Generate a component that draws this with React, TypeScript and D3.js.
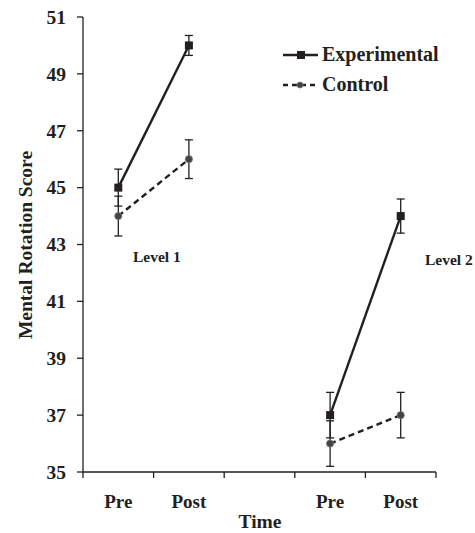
import { useMemo } from 'react';
import { scaleBand, scaleLinear, line } from 'd3';

const slots = ['L1 Pre', 'L1 Post', 'gap', 'L2 Pre', 'L2 Post'];
const slotLabels = ['Pre', 'Post', '', 'Pre', 'Post'];
const yTicks = [35, 37, 39, 41, 43, 45, 47, 49, 51];

const experimental = [
  { level: 1, slot: 'L1 Pre', value: 45, err: 0.65 },
  { level: 1, slot: 'L1 Post', value: 50, err: 0.35 },
  { level: 2, slot: 'L2 Pre', value: 37, err: 0.8 },
  { level: 2, slot: 'L2 Post', value: 44, err: 0.6 },
];

const control = [
  { level: 1, slot: 'L1 Pre', value: 44, err: 0.7 },
  { level: 1, slot: 'L1 Post', value: 46, err: 0.68 },
  { level: 2, slot: 'L2 Pre', value: 36, err: 0.8 },
  { level: 2, slot: 'L2 Post', value: 37, err: 0.8 },
];

type Pt = { level: number; slot: string; value: number; err: number };

const font = '"Liberation Serif", "Times New Roman", serif';
const ink = '#231f20';

export default function App() {
  const x = useMemo(() => scaleBand().domain(slots).range([83, 436]).padding(0), []);
  const y = useMemo(() => scaleLinear().domain([35, 51]).range([472, 17]), []);
  const cx = (s: string) => (x(s) ?? 0) + x.bandwidth() / 2;
  const path = line<Pt>()
    .x((d) => cx(d.slot))
    .y((d) => y(d.value));

  const bounds = slots.map((s) => x(s) ?? 0).concat([436]);

  const errBars = (data: Pt[]) =>
    data.map((d, i) => (
      <g key={i} stroke={ink} strokeWidth={1.3}>
        <line x1={cx(d.slot)} x2={cx(d.slot)} y1={y(d.value - d.err)} y2={y(d.value + d.err)} />
        <line x1={cx(d.slot) - 4} x2={cx(d.slot) + 4} y1={y(d.value - d.err)} y2={y(d.value - d.err)} />
        <line x1={cx(d.slot) - 4} x2={cx(d.slot) + 4} y1={y(d.value + d.err)} y2={y(d.value + d.err)} />
      </g>
    ));

  return (
    <svg
      width={475}
      height={533}
      style={{ position: 'absolute', left: 0, top: 0, background: '#fff' }}
      fontFamily={font}
      fontWeight="bold"
    >
      {/* y axis */}
      <line x1={83} x2={83} y1={17} y2={472} stroke={ink} strokeWidth={1.3} />
      {yTicks.map((t) => (
        <g key={t}>
          <line x1={77} x2={83} y1={y(t)} y2={y(t)} stroke={ink} strokeWidth={1.3} />
          <text x={66} y={y(t)} dy="0.35em" textAnchor="end" fontSize={19.5} fill={ink}>
            {t}
          </text>
        </g>
      ))}
      {/* x axis */}
      <line x1={83} x2={436} y1={472} y2={472} stroke={ink} strokeWidth={1.3} />
      {bounds.map((b, i) => (
        <line key={i} x1={b} x2={b} y1={472} y2={478} stroke={ink} strokeWidth={1.3} />
      ))}
      {slots.map((s, i) => (
        <text key={s} x={cx(s)} y={508} textAnchor="middle" fontSize={19} fill={ink}>
          {slotLabels[i]}
        </text>
      ))}
      <text x={260} y={528} textAnchor="middle" fontSize={19.5} fill={ink}>
        Time
      </text>
      <text
        transform={`translate(32,${245}) rotate(-90)`}
        textAnchor="middle"
        fontSize={19.5}
        fill={ink}
      >
        Mental Rotation Score
      </text>

      {errBars(control)}
      {errBars(experimental)}

      {[1, 2].map((lv) => (
        <g key={lv}>
          <path
            d={path(control.filter((d) => d.level === lv)) ?? ''}
            fill="none"
            stroke={ink}
            strokeWidth={2.4}
            strokeDasharray="6,4"
          />
          <path
            d={path(experimental.filter((d) => d.level === lv)) ?? ''}
            fill="none"
            stroke={ink}
            strokeWidth={2.4}
          />
        </g>
      ))}
      {control.map((d, i) => (
        <circle key={i} cx={cx(d.slot)} cy={y(d.value)} r={3.6} fill="#444" stroke="#777" strokeWidth={0.8} />
      ))}
      {experimental.map((d, i) => (
        <rect key={i} x={cx(d.slot) - 4} y={y(d.value) - 4} width={8} height={8} fill={ink} />
      ))}

      <text x={133} y={262} fontSize={15.5} fill={ink}>
        Level 1
      </text>
      <text x={425} y={265} fontSize={15.5} fill={ink}>
        Level 2
      </text>

      {/* legend */}
      <line x1={283} x2={318} y1={55} y2={55} stroke={ink} strokeWidth={2.4} />
      <rect x={297} y={51} width={8} height={8} fill={ink} />
      <text x={322} y={61} fontSize={20} fill={ink}>
        Experimental
      </text>
      <line x1={283} x2={318} y1={85} y2={85} stroke={ink} strokeWidth={2.4} strokeDasharray="5,4" />
      <circle cx={300} cy={85} r={3} fill="#444" stroke="#777" strokeWidth={0.8} />
      <text x={322} y={91} fontSize={20} fill={ink}>
        Control
      </text>
    </svg>
  );
}
